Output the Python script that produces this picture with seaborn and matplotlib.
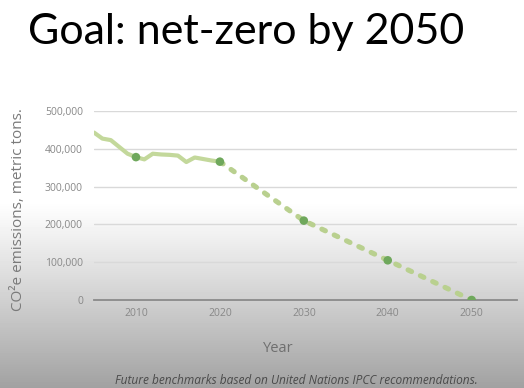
import numpy as np
import pandas as pd
import matplotlib
matplotlib.use('Agg')
import matplotlib.pyplot as plt
import seaborn as sns

# historical emissions (metric tons CO2e)
hist_years = [2005, 2006, 2007, 2008, 2009, 2010, 2011, 2012, 2013,
              2014, 2015, 2016, 2017, 2018, 2019, 2020]
hist_values = [443000, 427000, 423000, 405000, 387000, 378000, 372000, 387000,
               385000, 384000, 382000, 365000, 377000, 373000, 369000, 366000]

# future benchmarks
goal_years = [2020, 2030, 2040, 2050]
goal_values = [366000, 210000, 105000, 0]

marker_years = [2010, 2020, 2030, 2040, 2050]
marker_values = [378000, 366000, 210000, 105000, 0]

hist = pd.DataFrame({'year': hist_years, 'co2': hist_values})
goal = pd.DataFrame({'year': goal_years, 'co2': goal_values})
marks = pd.DataFrame({'year': marker_years, 'co2': marker_values})

sns.set_theme(style='white')
plt.rcParams['font.family'] = ['Open Sans', 'DejaVu Sans']

fig = plt.figure(figsize=(5.24, 3.88), dpi=100)

# slide background: white fading to grey at the bottom
bg = fig.add_axes([0, 0, 1, 1], zorder=-10)
h = 388
rows = np.arange(h)
start = 200
t = np.clip((rows - start) / (h - start), 0, 1)
shade = 1.0 - t ** 1.1 * 0.37
img = np.tile(shade[:, None], (1, 10))
bg.imshow(img, cmap='gray', vmin=0, vmax=1, aspect='auto', extent=[0, 1, 0, 1],
          origin='upper')
bg.axis('off')

ax = fig.add_axes([94 / 524, (388 - 300) / 388, (517 - 94) / 524, (300 - 111) / 388])
ax.patch.set_alpha(0)

sns.lineplot(data=hist, x='year', y='co2', ax=ax, color='#c3d89b', lw=3.0,
             solid_capstyle='round')
sns.lineplot(data=goal, x='year', y='co2', ax=ax, color='#b9d08f', lw=3.7,
             dashes=False, linestyle=(0, (0.75, 1.9)), dash_capstyle='round')
sns.scatterplot(data=marks, x='year', y='co2', ax=ax, color='#6fa85c', s=38,
                edgecolor='none', zorder=5)

ax.set_xlim(2005, 2055.4)
ax.set_ylim(0, 500000)
ax.set_xticks([2010, 2020, 2030, 2040, 2050])
ax.set_yticks(range(0, 500001, 100000))
ax.set_yticklabels([f'{v:,}' for v in range(0, 500001, 100000)])
ax.grid(axis='y', color='#d9d9d9', lw=1)
ax.grid(axis='x', visible=False)
for s in ['top', 'right', 'left']:
    ax.spines[s].set_visible(False)
ax.spines['bottom'].set_color('#8a8a8a')
ax.spines['bottom'].set_linewidth(1.3)
ax.tick_params(axis='both', length=0, labelsize=7.5, colors='#888888', pad=8)
ax.tick_params(axis='x', pad=6)
ax.set_xlabel('')
ax.set_ylabel('')

fig.text(28 / 524, 1 - 44 / 388, 'Goal: net-zero by 2050', fontsize=31,
         family=['Lato', 'DejaVu Sans'], color='#000000', va='baseline')
fig.text(19 / 524, 1 - 210 / 388, 'CO²e emissions, metric tons.', rotation=90,
         fontsize=11, color='#7a7a7a', va='center', ha='center')
fig.text(278 / 524, 1 - 349 / 388, 'Year', fontsize=10.5, color='#6f6f6f',
         ha='center', va='center')
fig.text(115 / 524, 1 - 384.5 / 388,
         'Future benchmarks based on United Nations IPCC recommendations.',
         fontsize=8.6, style='italic', color='#4a4a4a', va='baseline')

fig.savefig('out.png', dpi=100)
